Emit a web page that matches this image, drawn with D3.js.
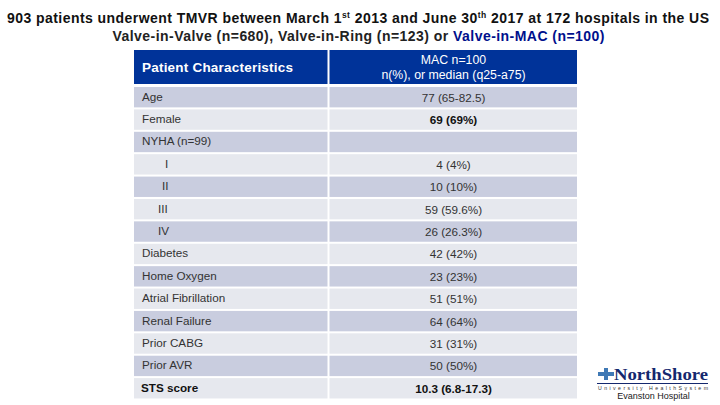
<!DOCTYPE html>
<html><head><meta charset="utf-8">
<script src="https://cdn.jsdelivr.net/npm/d3@7/dist/d3.min.js"></script>
<style>html,body{margin:0;background:#fff}svg{display:block}text{font-family:"Liberation Sans",Arial,sans-serif}</style>
</head><body><svg id="c" width="720" height="405"></svg>
<script>
const characteristics = ["Age","Female","NYHA (n=99)","I","II","III","IV","Diabetes","Home Oxygen","Atrial Fibrillation","Renal Failure","Prior CABG","Prior AVR","STS score"];
const values = ["77 (65-82.5)","69 (69%)","","4 (4%)","10 (10%)","59 (59.6%)","26 (26.3%)","42 (42%)","23 (23%)","51 (51%)","64 (64%)","31 (31%)","50 (50%)","10.3 (6.8-17.3)"];
const nyhaClasses = ["I","II","III","IV"];
const boldRows = ["STS score"];
const boldValues = ["Female","STS score"];

const svg = d3.select("#c");
const y = d3.scaleBand().domain(characteristics).range([86,399.5]).paddingInner(0.09).paddingOuter(0.045);
const COL = [134,327.5,329.5,577];
const nyhaX = {I:165,II:162,III:158,IV:158};

// title
const t1 = svg.append("text").attr("x",358).attr("y",23).attr("text-anchor","middle").attr("font-size",14).attr("font-weight",700).attr("fill","#111").attr("textLength",702).attr("lengthAdjust","spacing");
t1.append("tspan").text("903 patients underwent TMVR between March 1");
t1.append("tspan").text("st").attr("font-size",8.5).attr("dy",-5);
t1.append("tspan").text(" 2013 and June 30").attr("dy",5);
t1.append("tspan").text("th").attr("font-size",8.5).attr("dy",-5);
t1.append("tspan").text(" 2017 at 172 hospitals in the US").attr("dy",5);
const t2 = svg.append("text").attr("x",358.5).attr("y",41).attr("text-anchor","middle").attr("font-size",14).attr("font-weight",700).attr("fill","#222").attr("textLength",492).attr("lengthAdjust","spacing");
t2.append("tspan").text("Valve-in-Valve (n=680), Valve-in-Ring (n=123) or ");
t2.append("tspan").text("Valve-in-MAC (n=100)").attr("fill","#00108c");

// header
svg.selectAll("rect.h").data([[COL[0],COL[1]],[COL[2],COL[3]]]).join("rect").attr("class","h")
  .attr("x",d=>d[0]).attr("width",d=>d[1]-d[0]).attr("y",50).attr("height",34).attr("fill","#003399");
svg.append("text").attr("x",142).attr("y",71.5).attr("font-size",13.5).attr("font-weight",700).attr("fill","#fff").attr("textLength",151).attr("lengthAdjust","spacing").text("Patient Characteristics");
svg.append("text").attr("x",453.5).attr("y",63.5).attr("text-anchor","middle").attr("font-size",12.3).attr("fill","#fff").text("MAC n=100");
svg.append("text").attr("x",453.5).attr("y",78.5).attr("text-anchor","middle").attr("font-size",12.3).attr("fill","#fff").text("n(%), or median (q25-a75)");

// rows
const rows = svg.selectAll("g.r").data(characteristics).join("g").attr("class","r");
rows.selectAll("rect").data((d,i)=>[[COL[0],COL[1],i],[COL[2],COL[3],i]]).join("rect")
  .attr("x",d=>d[0]).attr("width",d=>d[1]-d[0])
  .attr("y",d=>y(characteristics[d[2]])).attr("height",y.bandwidth())
  .attr("fill",d=>d[2]%2===0?"#c9cddf":"#e6e8ee");
rows.append("text")
  .attr("x",d=>nyhaClasses.includes(d)?nyhaX[d]:(boldRows.includes(d)?141:142))
  .attr("y",d=>y(d)+y.bandwidth()/2+3.5)
  .attr("font-size",11.7).attr("fill",d=>boldRows.includes(d)?"#111":"#333")
  .attr("font-weight",d=>boldRows.includes(d)?700:400)
  .text(d=>d);
rows.append("text").attr("x",453.5)
  .attr("y",d=>y(d)+y.bandwidth()/2+4.5)
  .attr("text-anchor","middle").attr("font-size",11.7)
  .attr("fill",d=>boldValues.includes(d)?"#111":"#333")
  .attr("font-weight",d=>boldValues.includes(d)?700:400)
  .text((d,i)=>values[i]);

// logo
const logo = svg.append("g");
logo.append("path").attr("d","M604 368h4v4h6v4h-6v4h-4v-4h-6v-4h6z").attr("fill","#3f79b5");
logo.append("text").attr("x",614).attr("y",380).attr("font-weight",700).attr("font-size",17).attr("fill","#14286e").attr("textLength",94).attr("lengthAdjust","spacingAndGlyphs").style("font-family","'Liberation Serif',serif").text("NorthShore");
logo.append("rect").attr("x",597).attr("y",383).attr("width",111).attr("height",1).attr("fill","#14286e");
logo.append("text").attr("x",598).attr("y",390).attr("font-size",5.2).attr("fill","#333").attr("textLength",110).attr("lengthAdjust","spacing").text("University HealthSystem");
logo.append("text").attr("x",653.5).attr("y",398.5).attr("text-anchor","middle").attr("font-size",9).attr("fill","#222").text("Evanston Hospital");
</script></body></html>
